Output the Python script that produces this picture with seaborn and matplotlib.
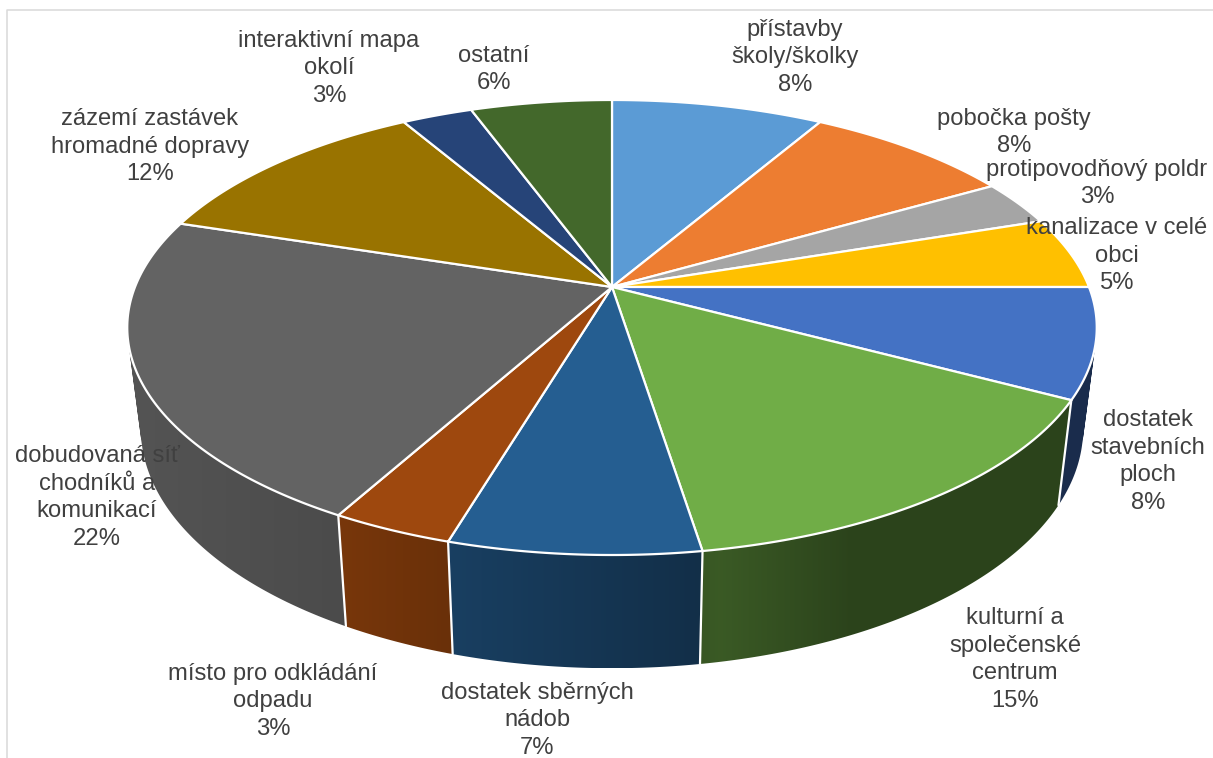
import numpy as np
import matplotlib
matplotlib.use("Agg")
import matplotlib.pyplot as plt
from matplotlib.path import Path
from matplotlib.patches import PathPatch
import seaborn as sns

categories = [
    "přístavby\nškoly/školky", "pobočka pošty", "protipovodňový poldr",
    "kanalizace v celé\nobci", "dostatek\nstavebních\nploch",
    "kulturní a\nspolečenské\ncentrum", "dostatek sběrných\nnádob",
    "místo pro odkládání\nodpadu", "dobudovaná síť\nchodníků a\nkomunikací",
    "zázemí zastávek\nhromadné dopravy", "interaktivní mapa\nokolí", "ostatní",
]
shares = [8.4, 8.3, 3.2, 5.1, 7.8, 14.7, 7.1, 3.45, 21.85, 11.7, 2.8, 5.6]
colors = ["#5b9bd5", "#ed7d31", "#a5a5a5", "#ffc000", "#4472c4", "#70ad47",
          "#255e91", "#9e480e", "#636363", "#997300", "#264478", "#43682b"]
label_x = [795, 1014, 1097, 1117, 1148, 1015, 537, 273, 97, 150, 329, 494]
label_y = [57.5, 132.5, 183.5, 255.5, 461.5, 659.5, 720.5, 701.5, 497.5, 146.5, 68.5, 69.5]

# view geometry of the tilted disc (pixels)
CX, CY, A, B, K = 612, 287, 220.3, 477, -0.178
SX, Y0, SY = 0.972, 386, 1.053
shade_x = [127, 340, 450, 700, 720, 850, 1100]
shade_f = [.85, .76, .67, .50, .52, .39, .39]


def top(theta):
    u, v = np.sin(theta), -np.cos(theta)
    d = 1 + K * v
    return B * u / d, A * v / d


def bottom(theta):
    x, y = top(theta)
    return CX + SX * x, Y0 + SY * y


def wall_path(t):
    """Swept wall of one slice as a compound path of consistently wound quads."""
    xt, yt = top(t)
    xb, yb = bottom(t)
    xt, yt = CX + xt, CY + yt
    quads = []
    for j in range(len(t) - 1):
        q = np.array([[xt[j], yt[j]], [xt[j + 1], yt[j + 1]],
                      [xb[j + 1], yb[j + 1]], [xb[j], yb[j]]])
        x, y = q[:, 0], q[:, 1]
        if np.dot(x, np.roll(y, -1)) - np.dot(y, np.roll(x, -1)) < 0:
            q = q[::-1]
        quads.append(Path(np.vstack([q, q[:1]]), closed=True))
    return Path.make_compound_path(*quads)


sns.set_theme(style="white")
plt.rcParams["font.family"] = ["Liberation Sans", "DejaVu Sans"]
palette = sns.color_palette(colors)

fig = plt.figure(figsize=(12.13, 7.58), dpi=100, facecolor="white")
ax = fig.add_axes([0, 0, 1, 1])
ax.axis("off")

ax.plot([6.5, 6.5, 1213], [758, 9.5, 9.5], color="#d9d9d9", lw=1.1, zorder=0)

edges = np.cumsum([0] + shares) / sum(shares) * 2 * np.pi

# side wall: horizontal shading gradient clipped to each slice's wall
for i, col in enumerate(palette):
    t = np.linspace(edges[i], edges[i + 1], 120)
    path = wall_path(t)
    x0, y0 = path.vertices.min(axis=0)
    x1, y1 = path.vertices.max(axis=0)
    xs = np.linspace(x0, x1, 300)
    strip = np.interp(xs, shade_x, shade_f)[None, :, None] * np.array(col)[None, None, :]
    im = ax.imshow(np.clip(strip, 0, 1), extent=[x0, x1, y1, y0], aspect="auto",
                   interpolation="bilinear", zorder=1)
    im.set_clip_path(PathPatch(path, transform=ax.transData))

ax.set_xlim(0, 1213)
ax.set_ylim(758, 0)

# white seams on the wall
for e in edges[:-1]:
    x, y = top(e)
    xb, yb = bottom(e)
    ax.plot([CX + x, xb], [CY + y, yb], color="white", lw=1.6, zorder=2)

# top face
for i, col in enumerate(palette):
    t = np.linspace(edges[i], edges[i + 1], 120)
    x, y = top(t)
    ax.fill(np.r_[CX, CX + x], np.r_[CY, CY + y], facecolor=col,
            edgecolor="white", lw=1.6, joinstyle="round", zorder=3)

# labels
for name, s, lx, ly in zip(categories, shares, label_x, label_y):
    ax.text(lx, ly, f"{name}\n{round(s)}%", ha="center", va="center",
            ma="center", fontsize=17.1, color="#404040", linespacing=1.32,
            zorder=5)

fig.savefig("out.png", dpi=100, facecolor="white")
